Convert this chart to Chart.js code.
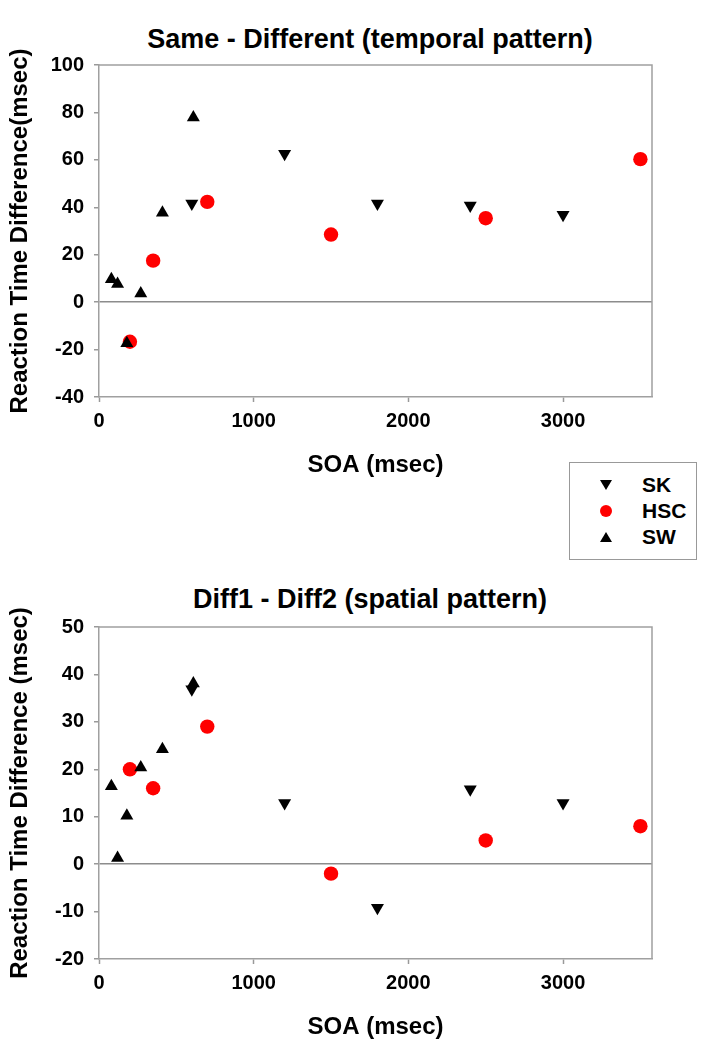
<!DOCTYPE html>
<html><head><meta charset="utf-8">
<script src="https://cdn.jsdelivr.net/npm/chart.js@4.4.1/dist/chart.umd.min.js"></script>
<style>
html,body{margin:0;padding:0;background:#fff;}
body{width:704px;height:1050px;position:relative;overflow:hidden;font-family:"Liberation Sans",Arial,sans-serif;}
canvas{position:absolute;left:0;}
.title{position:absolute;left:0;width:740px;text-align:center;font-weight:bold;font-size:27px;color:#000;line-height:32px;white-space:nowrap;}
#legend{position:absolute;left:569px;top:462px;width:126px;height:96px;border:1px solid #999;background:#fff;z-index:5;}
#legend .row{position:absolute;left:0;width:126px;height:26px;}
#legend svg{position:absolute;left:26px;top:3px;}
#legend span{position:absolute;left:72px;top:0;font-weight:bold;font-size:21px;line-height:26px;color:#000;}
</style>
</head><body>
<div class="title" style="top:23px">Same - Different (temporal pattern)</div>
<canvas id="c1" width="704" height="485" style="top:0px"></canvas>
<div class="title" style="top:583px">Diff1 - Diff2 (spatial pattern)</div>
<canvas id="c2" width="704" height="485" style="top:562px"></canvas>
<div id="legend">
  <div class="row" style="top:9px"><svg width="20" height="20"><polygon points="4,5 16,5 10,15" fill="#000"/></svg><span>SK</span></div>
  <div class="row" style="top:35px"><svg width="20" height="20"><circle cx="10" cy="10" r="6" fill="#ff0000"/></svg><span>HSC</span></div>
  <div class="row" style="top:61px"><svg width="20" height="20"><polygon points="4,15 16,15 10,5" fill="#000"/></svg><span>SW</span></div>
</div>
<script>
// ---- data ----
const seriesNames = ['SK', 'HSC', 'SW'];
const xTicks = [0, 1000, 2000, 3000];

// Top chart: Same - Different (temporal pattern)
const skSoa = [600, 1200, 1800, 2400, 3000];
const skTemporal = [41.6, 62.6, 41.6, 40.8, 36.8];
const hscSoa = [200, 350, 700, 1500, 2500, 3500];
const hscTemporal = [-16.7, 17.5, 42.3, 28.5, 35.4, 60.3];
const swSoa = [80, 120, 180, 270, 410, 610];
const swTemporal = [9.7, 7.7, -17.3, 3.6, 37.7, 77.9];
const yTicksTemporal = [-40, -20, 0, 20, 40, 60, 80, 100];

// Bottom chart: Diff1 - Diff2 (spatial pattern)
const skSpatial = [36.9, 12.9, -9.2, 15.8, 12.9];
const hscSpatial = [20.0, 16.0, 29.0, -2.0, 5.0, 8.0];
const swSpatial = [16.4, 1.3, 10.2, 20.4, 24.2, 38.1];
const yTicksSpatial = [-20, -10, 0, 10, 20, 30, 40, 50];

// ---- chart ----
const FONT = "'Liberation Sans', Arial, sans-serif";
Chart.defaults.font.family = FONT;
Chart.defaults.color = '#000';

const pts = (xs, ys) => xs.map((x, i) => ({x: x, y: ys[i]}));

const framePlugin = {
  id: 'frame',
  beforeDatasetsDraw(chart) {
    const {ctx, chartArea: a} = chart;
    ctx.save();
    ctx.strokeStyle = '#a0a0a0';
    ctx.lineWidth = 1.5;
    ctx.beginPath();
    ctx.moveTo(a.left, a.top);
    ctx.lineTo(a.right, a.top);
    ctx.lineTo(a.right, a.bottom);
    ctx.stroke();
    ctx.restore();
  }
};

function makeChart(id, skY, hscY, swY, yTicks, yTitle) {
  const yMin = yTicks[0], yMax = yTicks[yTicks.length - 1];
  const yStep = yTicks[1] - yTicks[0];
  return new Chart(document.getElementById(id), {
    type: 'scatter',
    data: {
      datasets: [
        {label: seriesNames[2], data: pts(swSoa, swY), pointStyle: 'triangle', rotation: 0,
         backgroundColor: '#000', borderColor: '#000', borderWidth: 0, pointRadius: 7.5, clip: false},
        {label: seriesNames[0], data: pts(skSoa, skY), pointStyle: 'triangle', rotation: 180,
         backgroundColor: '#000', borderColor: '#000', borderWidth: 0, pointRadius: 7.5, clip: false},
        {label: seriesNames[1], data: pts(hscSoa, hscY), pointStyle: 'circle',
         backgroundColor: '#ff0000', borderColor: '#ff0000', borderWidth: 0, pointRadius: 7.2, clip: false}
      ]
    },
    options: {
      responsive: false,
      animation: false,
      devicePixelRatio: 1,
      layout: {padding: {left: 0, right: 52, top: 65, bottom: 5}},
      plugins: {legend: {display: false}, title: {display: false}, tooltip: {enabled: false}},
      scales: {
        x: {
          type: 'linear', min: 0, max: 3575,
          afterFit(s) { s.height = 83; },
          afterBuildTicks(s) { s.ticks = xTicks.map(v => ({value: v})); },
          ticks: {font: {size: 20, weight: 'bold'}, padding: 7, includeBounds: false, maxRotation: 0,
                  callback: (v) => String(v)},
          grid: {drawOnChartArea: false, drawTicks: true, tickLength: 5, tickColor: '#999', tickWidth: 1.5},
          border: {display: true, color: '#a0a0a0', width: 1.5},
          title: {display: true, text: 'SOA (msec)', font: {size: 24, weight: 'bold'}, padding: {top: 0, bottom: 0}}
        },
        y: {
          type: 'linear', min: yMin, max: yMax,
          afterFit(s) { s.width = 99; },
          afterBuildTicks(s) { s.ticks = yTicks.map(v => ({value: v})); },
          ticks: {font: {size: 20, weight: 'bold'}, padding: 10, stepSize: yStep, callback: (v) => String(v)},
          grid: {
            drawOnChartArea: true, drawTicks: true, tickLength: 5, tickColor: '#999', tickWidth: 1.5,
            color: (c) => (c.tick && c.tick.value === 0) ? '#8c8c8c' : 'rgba(0,0,0,0)',
            lineWidth: 1.5
          },
          border: {display: true, color: '#a0a0a0', width: 1.5},
          title: {display: true, text: yTitle, font: {size: 24, weight: 'bold'}, padding: {top: 6, bottom: 0}}
        }
      }
    },
    plugins: [framePlugin]
  });
}

makeChart('c1', skTemporal, hscTemporal, swTemporal, yTicksTemporal, 'Reaction Time Difference(msec)');
makeChart('c2', skSpatial, hscSpatial, swSpatial, yTicksSpatial, 'Reaction Time Difference (msec)');
</script>
</body></html>
